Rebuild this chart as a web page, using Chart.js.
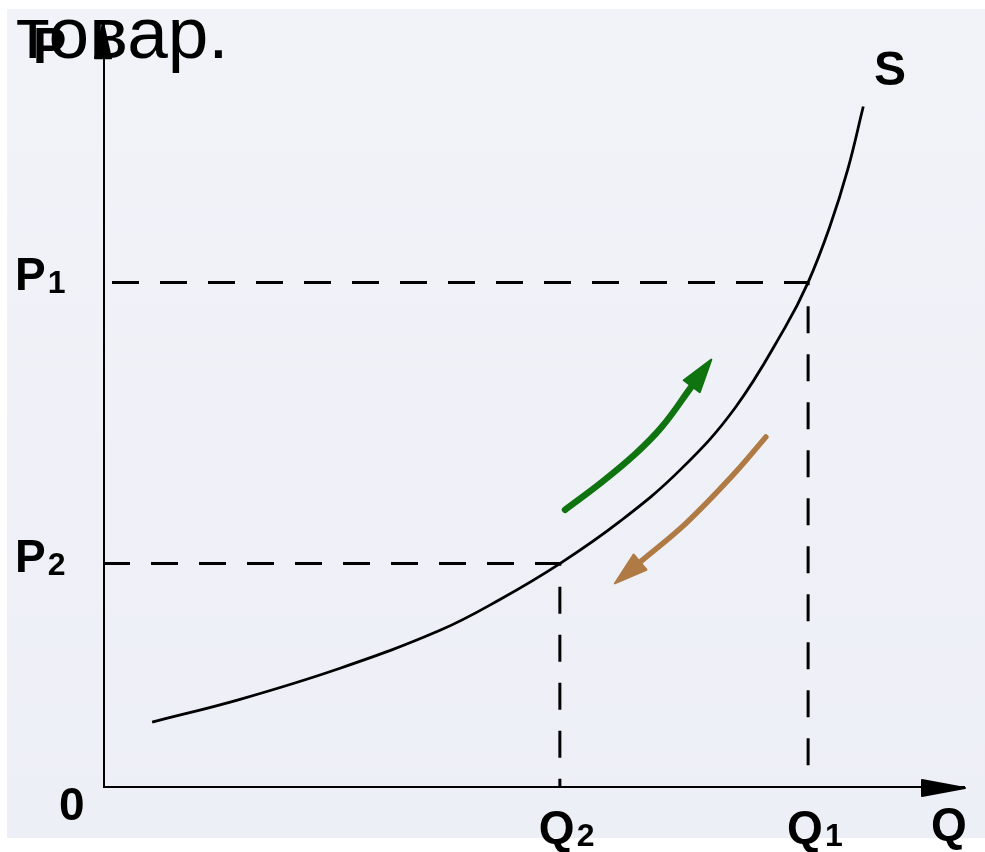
<!DOCTYPE html>
<html>
<head>
<meta charset="utf-8">
<script src="https://cdn.jsdelivr.net/npm/chart.js@4.4.1/dist/chart.umd.min.js"></script>
<style>
  html, body { margin: 0; padding: 0; background: #fff; }
  canvas { display: block; }
</style>
</head>
<body>
<canvas id="supplyChart" width="985" height="852"></canvas>
<script>
// Supply curve S (Q on x, P on y, both 0..10)
const supplyQ = [0.57, 1.59, 2.75, 3.91, 4.61, 5.30, 6.00, 6.69, 7.33, 7.91, 8.18, 8.43, 8.64, 8.82];
const supplyP = [0.87, 1.17, 1.58, 2.08, 2.49, 2.96, 3.52, 4.19, 5.01, 6.07, 6.67, 7.40, 8.16, 8.99];

// the two marked points on the curve
const pointLabels = ['1', '2'];
const pointQ = [8.18, 5.30];
const pointP = [6.67, 2.96];

// green arrow (up along the curve) and brown arrow (down along it)
const greenQ = [5.36, 5.77, 6.15, 6.48, 6.83];
const greenP = [3.67, 4.02, 4.38, 4.76, 5.30];
const brownQ = [7.69, 7.31, 6.77, 6.23];
const brownP = [4.63, 4.13, 3.50, 2.98];

const qMax = 10;
const pMax = 10.25;
const pAxisTop = 10.1;

const toXY = (xs, ys) => xs.map((x, i) => ({ x: x, y: ys[i] }));

const FONT = '"Liberation Sans", Arial, sans-serif';

// background: light grey slide with a thin white margin
const backgroundPlugin = {
    id: 'slideBg',
    beforeDraw(chart) {
        const ctx = chart.ctx;
        ctx.save();
        ctx.fillStyle = '#ffffff';
        ctx.fillRect(0, 0, chart.width, chart.height);
        const g = ctx.createLinearGradient(0, 9, 0, 838);
        g.addColorStop(0, '#f1f3f9');
        g.addColorStop(1, '#eceff5');
        ctx.fillStyle = g;
        ctx.fillRect(7, 9, chart.width - 7, 829);
        ctx.restore();
    }
};

function drawHead(ctx, fromX, fromY, atX, atY, len, half, color, tipAtEnd) {
    const dx = atX - fromX, dy = atY - fromY;
    const d = Math.hypot(dx, dy);
    const ux = dx / d, uy = dy / d;
    let bx, by, tx, ty;
    if (tipAtEnd) {
        tx = atX; ty = atY;
        bx = atX - ux * len; by = atY - uy * len;
    } else {
        bx = atX; by = atY;
        tx = atX + ux * len; ty = atY + uy * len;
    }
    ctx.beginPath();
    ctx.moveTo(tx, ty);
    ctx.lineTo(bx - uy * half, by + ux * half);
    ctx.lineTo(bx + uy * half, by - ux * half);
    ctx.closePath();
    ctx.fillStyle = color;
    ctx.strokeStyle = color;
    ctx.lineJoin = 'round';
    ctx.lineWidth = 2;
    ctx.fill();
    ctx.stroke();
}

const annotationsPlugin = {
    id: 'annotations',
    afterDatasetsDraw(chart) {
        const ctx = chart.ctx;
        const xs = chart.scales.x, ys = chart.scales.y;
        const px = v => xs.getPixelForValue(v);
        const py = v => ys.getPixelForValue(v);
        ctx.save();

        // axis arrowheads
        drawHead(ctx, px(0), py(0), px(qMax), py(0), 43, 8, '#000', true);
        drawHead(ctx, px(0), py(0), px(0), py(pAxisTop), 36, 8, '#000', true);

        // arrowheads of the coloured arrows
        let n = greenQ.length;
        drawHead(ctx, px(greenQ[n - 2]), py(greenP[n - 2]), px(greenQ[n - 1]), py(greenP[n - 1]), 33, 10, '#0f740f', false);
        n = brownQ.length;
        drawHead(ctx, px(brownQ[n - 2]), py(brownP[n - 2]), px(brownQ[n - 1]), py(brownP[n - 1]), 33, 10, '#b07a45', false);

        // labels
        ctx.fillStyle = '#000';
        ctx.textBaseline = 'alphabetic';
        ctx.textAlign = 'left';
        const sub = (main, s, x, y) => {
            ctx.font = 'bold 46px ' + FONT;
            ctx.fillText(main, x, y);
            const w = ctx.measureText(main).width;
            ctx.font = 'bold 32px ' + FONT;
            ctx.fillText(s, x + w + 2, y + 3);
        };
        // P labels on the left, Q labels under the axis
        for (let i = 0; i < pointLabels.length; i++) {
            sub('P', pointLabels[i], 15, py(pointP[i]) + 8);
            sub('Q', pointLabels[i], px(pointQ[i]) - 21, 843);
        }
        ctx.font = 'bold 46px ' + FONT;
        ctx.fillText('0', 59, 820);
        ctx.fillText('Q', 931, 840);
        ctx.font = 'bold 48px ' + FONT;
        ctx.fillText('S', 874, 85);
        ctx.font = 'bold 50px ' + FONT;
        ctx.fillText('P', 33, 63);

        // slide text on top
        ctx.font = '73px ' + FONT;
        ctx.fillText('товар.', 16, 58);
        ctx.restore();
    }
};

const lineDefaults = { showLine: true, pointRadius: 0, fill: false };

new Chart(document.getElementById('supplyChart'), {
    type: 'scatter',
    data: {
        datasets: [
            Object.assign({
                label: 'axes',
                data: [{ x: 0, y: pAxisTop }, { x: 0, y: 0 }, { x: qMax, y: 0 }],
                borderColor: '#000',
                borderWidth: 4
            }, lineDefaults),
            Object.assign({
                label: 'P1 Q1',
                data: [{ x: 0, y: pointP[0] }, { x: pointQ[0], y: pointP[0] }, { x: pointQ[0], y: 0 }],
                borderColor: '#000',
                borderWidth: 3,
                borderDash: [27, 21],
                borderDashOffset: 39
            }, lineDefaults),
            Object.assign({
                label: 'P2 Q2',
                data: [{ x: 0, y: pointP[1] }, { x: pointQ[1], y: pointP[1] }, { x: pointQ[1], y: 0 }],
                borderColor: '#000',
                borderWidth: 3,
                borderDash: [27, 21]
            }, lineDefaults),
            Object.assign({
                label: 'S',
                data: toXY(supplyQ, supplyP),
                borderColor: '#000',
                borderWidth: 2.8,
                tension: 0.4
            }, lineDefaults),
            Object.assign({
                label: 'up',
                data: toXY(greenQ, greenP),
                borderColor: '#0f740f',
                borderWidth: 6.5,
                borderCapStyle: 'round',
                tension: 0.4
            }, lineDefaults),
            Object.assign({
                label: 'down',
                data: toXY(brownQ, brownP),
                borderColor: '#b07a45',
                borderWidth: 5.5,
                borderCapStyle: 'round',
                tension: 0.4
            }, lineDefaults)
        ]
    },
    options: {
        responsive: false,
        animation: false,
        layout: { padding: { left: 103, right: 20, top: 11, bottom: 64 } },
        scales: {
            x: { type: 'linear', min: 0, max: qMax, display: false },
            y: { type: 'linear', min: 0, max: pMax, display: false }
        },
        plugins: {
            legend: { display: false },
            tooltip: { enabled: false }
        }
    },
    plugins: [backgroundPlugin, annotationsPlugin]
});
</script>
</body>
</html>
